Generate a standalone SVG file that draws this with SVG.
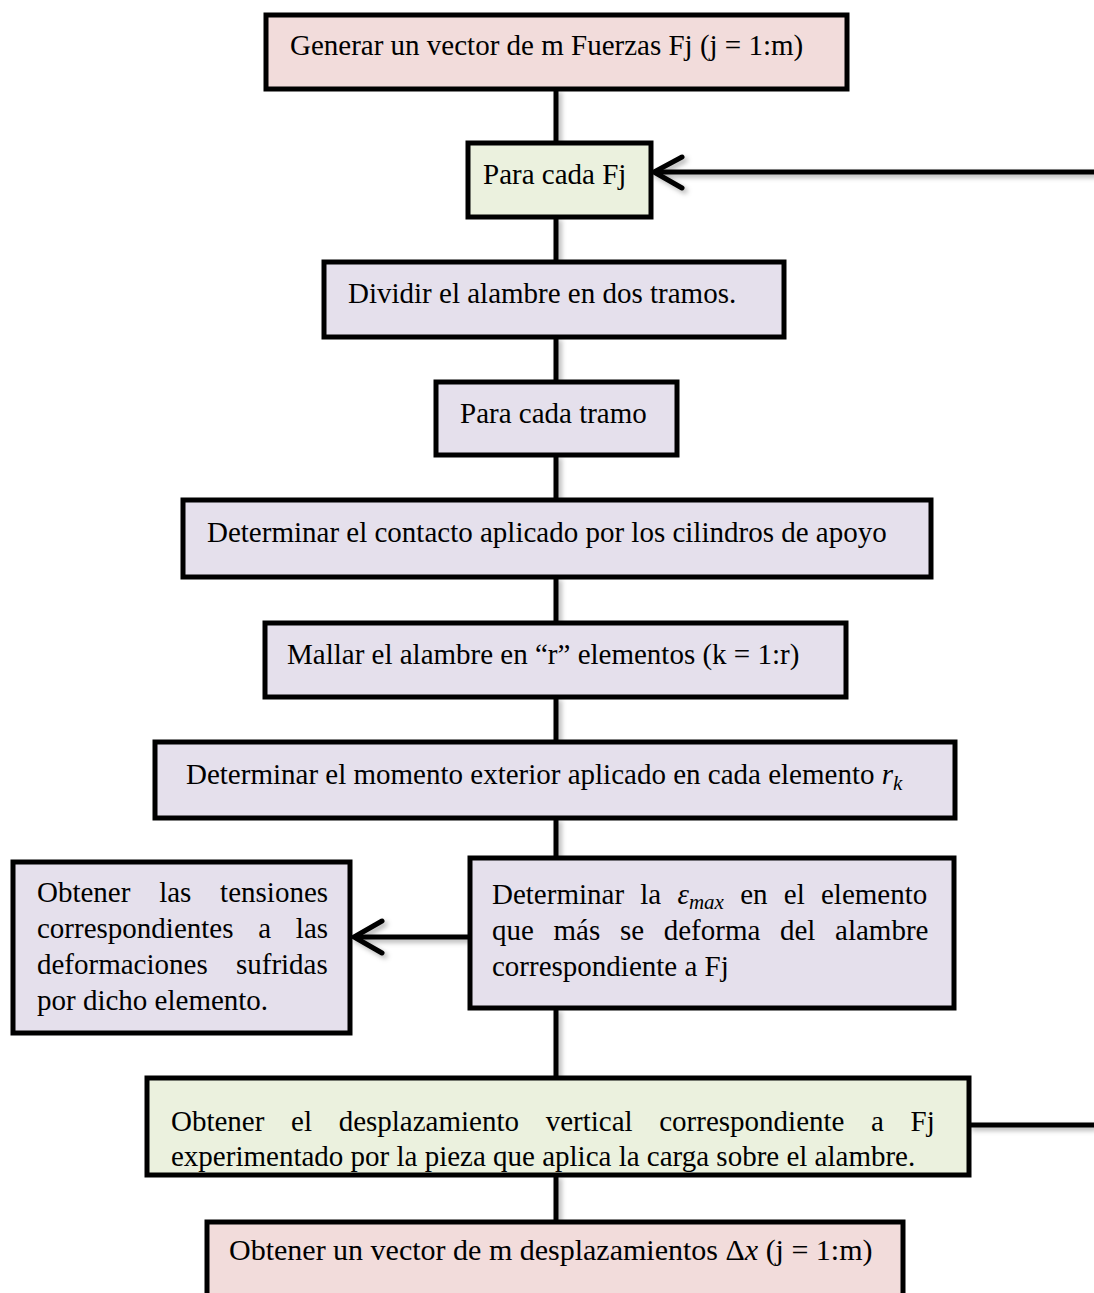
<svg xmlns="http://www.w3.org/2000/svg" width="1094" height="1293" viewBox="0 0 1094 1293">
  <defs>
    <filter id="sh" x="-20%" y="-20%" width="140%" height="140%">
      <feDropShadow dx="3" dy="3" stdDeviation="2.5" flood-color="#000" flood-opacity="0.3"/>
    </filter>
  </defs>
  <style>
    .box { stroke: #000; stroke-width: 5; }
    .pink { fill: #f2dcdb; }
    .green { fill: #ebf1de; }
    .lav { fill: #e5e0ec; }
    .t { font-family: "Liberation Serif", "Times New Roman", serif; font-size: 29px; fill: #000; }
    .m { font-style: italic; }
    .sub { font-size: 21px; font-style: italic; }
    .wire { stroke: #000; stroke-width: 5; fill: none; }
    .head { stroke: #000; stroke-width: 5; fill: none; stroke-linecap: round; stroke-linejoin: miter; }
  </style>
  <rect width="1094" height="1293" fill="#fff"/>

  <!-- connectors -->
  <g id="connectors" filter="url(#sh)">
    <line class="wire" x1="556" y1="89" x2="556" y2="143"/>
    <line class="wire" x1="556" y1="217" x2="556" y2="262"/>
    <line class="wire" x1="556" y1="337" x2="556" y2="382"/>
    <line class="wire" x1="556" y1="455" x2="556" y2="500"/>
    <line class="wire" x1="556" y1="577" x2="556" y2="623"/>
    <line class="wire" x1="556" y1="697" x2="556" y2="742"/>
    <line class="wire" x1="556" y1="818" x2="556" y2="858"/>
    <line class="wire" x1="556" y1="1008" x2="556" y2="1078"/>
    <line class="wire" x1="556" y1="1175" x2="556" y2="1222"/>
    <!-- loop back to "Para cada Fj" -->
    <line class="wire" x1="1094" y1="172" x2="654" y2="172"/>
    <polyline class="head" points="682,157 654,172 682,188"/>
    <!-- branch to the stress box -->
    <line class="wire" x1="470" y1="937" x2="354" y2="937"/>
    <polyline class="head" points="382,921 354,937 382,953"/>
    <!-- exit of the displacement box -->
    <line class="wire" x1="969" y1="1125" x2="1094" y2="1125"/>
  </g>

  <g id="n1">
    <rect class="box pink" x="266" y="15" width="581" height="74"/>
    <text class="t" x="290" y="55">Generar un vector de m Fuerzas Fj (j = 1:m)</text>
  </g>
  <g id="n2">
    <rect class="box green" x="468" y="143" width="183" height="74"/>
    <text class="t" x="483" y="184">Para cada Fj</text>
  </g>
  <g id="n3">
    <rect class="box lav" x="324" y="262" width="460" height="75"/>
    <text class="t" x="348" y="303">Dividir el alambre en dos tramos.</text>
  </g>
  <g id="n4">
    <rect class="box lav" x="436" y="382" width="241" height="73"/>
    <text class="t" x="460" y="423">Para cada tramo</text>
  </g>
  <g id="n5">
    <rect class="box lav" x="183" y="500" width="748" height="77"/>
    <text class="t" x="207" y="542">Determinar el contacto aplicado por los cilindros de apoyo</text>
  </g>
  <g id="n6">
    <rect class="box lav" x="265" y="623" width="581" height="74"/>
    <text class="t" x="287" y="664">Mallar el alambre en “r” elementos (k = 1:r)</text>
  </g>
  <g id="n7">
    <rect class="box lav" x="155" y="742" width="800" height="76"/>
    <text class="t" x="186" y="784">Determinar el momento exterior aplicado en cada elemento <tspan class="m">r</tspan><tspan class="sub" dy="6">k</tspan></text>
  </g>
  <g id="n8">
    <rect class="box lav" x="13" y="862" width="337" height="171"/>
    <text class="t" x="37" y="902" word-spacing="21.5">Obtener las tensiones</text>
    <text class="t" x="37" y="938" word-spacing="17.5">correspondientes a las</text>
    <text class="t" x="37" y="974" word-spacing="21">deformaciones sufridas</text>
    <text class="t" x="37" y="1010">por dicho elemento.</text>
  </g>
  <g id="n9">
    <rect class="box lav" x="470" y="858" width="484" height="150"/>
    <text class="t" x="492" y="904" word-spacing="9">Determinar la <tspan class="m">ε</tspan><tspan class="sub" dy="5">max</tspan><tspan dy="-5"> en el elemento</tspan></text>
    <text class="t" x="492" y="940" word-spacing="12.4">que más se deforma del alambre</text>
    <text class="t" x="492" y="976">correspondiente a Fj</text>
  </g>
  <g id="n10">
    <rect class="box green" x="147" y="1078" width="822" height="97"/>
    <text class="t" x="171" y="1131" word-spacing="19.4">Obtener el desplazamiento vertical correspondiente a Fj</text>
    <text class="t" x="171" y="1166">experimentado por la pieza que aplica la carga sobre el alambre.</text>
  </g>
  <g id="n11">
    <rect class="box pink" x="207" y="1222" width="696" height="100"/>
    <text class="t" x="229" y="1260" style="font-size:30px">Obtener un vector de m desplazamientos Δ<tspan class="m">x</tspan> (j = 1:m)</text>
  </g>
</svg>
